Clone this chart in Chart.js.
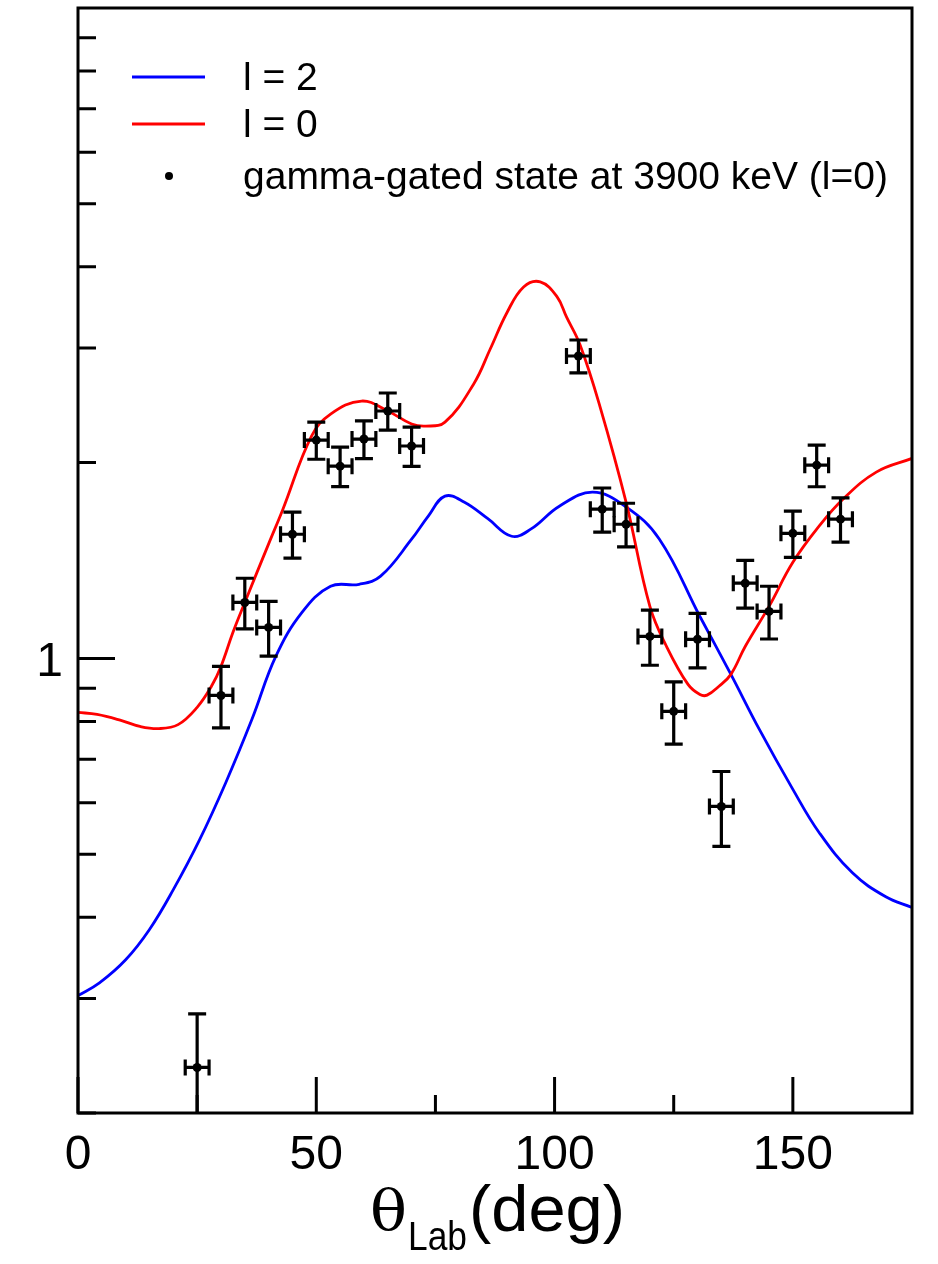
<!DOCTYPE html>
<html>
<head>
<meta charset="utf-8">
<title>Angular distribution</title>
<script src="https://cdn.jsdelivr.net/npm/chart.js@4.4.0/dist/chart.umd.min.js"></script>
<style>
  html, body { margin: 0; padding: 0; background: #fff; }
  #wrap { width: 938px; height: 1264px; }
</style>
</head>
<body>
<div id="wrap"><canvas id="myChart" width="938" height="1264"></canvas></div>
<script>
// l = 2 calculation (blue)
let l2_deg = [0, 4.5, 10, 15, 20, 25.5, 31, 36.5, 41.5, 47, 53, 59, 63.5, 70, 73.5, 77, 81, 86, 91, 95, 101, 108, 115, 122, 130.5, 137, 143, 150, 155.5, 162.5, 169.5, 175];
let l2_val = [0.303, 0.317, 0.344, 0.383, 0.441, 0.526, 0.644, 0.806, 1.007, 1.177, 1.291, 1.300, 1.338, 1.525, 1.655, 1.776, 1.74, 1.64, 1.541, 1.58, 1.714, 1.801, 1.71, 1.525, 1.16, 0.945, 0.777, 0.629, 0.540, 0.468, 0.430, 0.414];

// l = 0 calculation (red)
let l0_deg = [0, 4, 9, 13, 17, 21, 25, 28, 30, 32.5, 35, 40, 43, 49, 53, 59.5, 65, 70, 73, 77, 83, 86.5, 90, 93.5, 97, 100.5, 102.5, 105.3, 109.5, 115, 120, 123.5, 128, 130.5, 132, 134.5, 137, 140, 145, 150, 155.5, 160.5, 167.5, 175];
let l0_val = [0.826, 0.820, 0.803, 0.786, 0.780, 0.791, 0.841, 0.906, 0.972, 1.096, 1.219, 1.50, 1.696, 2.197, 2.375, 2.487, 2.401, 2.293, 2.276, 2.308, 2.64, 2.99, 3.40, 3.725, 3.793, 3.60, 3.35, 3.04, 2.443, 1.739, 1.202, 1.043, 0.912, 0.880, 0.878, 0.906, 0.945, 1.043, 1.202, 1.405, 1.597, 1.757, 1.934, 2.03];

// gamma-gated state at 3900 keV
let data_deg = [25, 30, 35, 40, 45, 50, 55, 60, 65, 70, 105, 110, 115, 120, 125, 130, 135, 140, 145, 150, 155, 160];
let data_val = [0.235, 0.877, 1.219, 1.116, 1.552, 2.166, 1.975, 2.174, 2.401, 2.121, 2.917, 1.696, 1.608, 1.081, 0.829, 1.070, 0.592, 1.305, 1.181, 1.557, 1.982, 1.637];
let data_yerr = [0.049, 0.095, 0.109, 0.108, 0.126, 0.142, 0.138, 0.145, 0.158, 0.147, 0.17, 0.132, 0.124, 0.105, 0.091, 0.103, 0.078, 0.11, 0.11, 0.127, 0.146, 0.128];
let data_xerr = 2.5;

let x_major = [0, 50, 100, 150];
let x_minor = [25, 75, 125];
let y_major = [1];
let y_minor = [0.2, 0.3, 0.4, 0.5, 0.6, 0.7, 0.8, 0.9, 2, 3, 4, 5, 6, 7, 8, 9];

const SANS = '"Liberation Sans", Arial, Helvetica, sans-serif';

function toPoints(xs, ys) {
    let pts = [];
    for (let i = 0; i < xs.length; i++) {
        pts.push({x: xs[i], y: ys[i]});
    }
    return pts;
}

// draw text squeezed/stretched to a given width
function fitText(ctx, text, x, y, width) {
    let w = ctx.measureText(text).width;
    ctx.save();
    ctx.translate(x, y);
    ctx.scale(width / w, 1);
    ctx.fillText(text, 0, 0);
    ctx.restore();
}

const errorBars = {
    id: 'errorBars',
    afterDatasetsDraw(chart) {
        const ctx = chart.ctx;
        const xs = chart.scales.x;
        const ys = chart.scales.y;
        const area = chart.chartArea;
        ctx.save();
        ctx.beginPath();
        ctx.rect(area.left, area.top, area.right - area.left, area.bottom - area.top);
        ctx.clip();
        ctx.strokeStyle = '#000';
        ctx.lineWidth = 3.2;
        for (let i = 0; i < data_deg.length; i++) {
            let px = xs.getPixelForValue(data_deg[i]);
            let py = ys.getPixelForValue(data_val[i]);
            let lo = data_val[i] - data_yerr[i];
            let yTop = ys.getPixelForValue(data_val[i] + data_yerr[i]);
            let yBot = lo > 0 ? ys.getPixelForValue(lo) : area.bottom + 10;
            let xL = xs.getPixelForValue(data_deg[i] - data_xerr);
            let xR = xs.getPixelForValue(data_deg[i] + data_xerr);
            ctx.beginPath();
            ctx.moveTo(px, yTop); ctx.lineTo(px, yBot);
            ctx.moveTo(px - 9, yTop); ctx.lineTo(px + 9, yTop);
            ctx.moveTo(px - 9, yBot); ctx.lineTo(px + 9, yBot);
            ctx.moveTo(xL, py); ctx.lineTo(xR, py);
            ctx.moveTo(xL, py - 8); ctx.lineTo(xL, py + 8);
            ctx.moveTo(xR, py - 8); ctx.lineTo(xR, py + 8);
            ctx.stroke();
        }
        ctx.restore();
    }
};

const frame = {
    id: 'frame',
    afterDraw(chart) {
        const ctx = chart.ctx;
        const xs = chart.scales.x;
        const ys = chart.scales.y;
        const a = chart.chartArea;
        ctx.save();
        ctx.strokeStyle = '#000';
        ctx.lineWidth = 3;
        ctx.strokeRect(a.left, a.top, a.right - a.left, a.bottom - a.top);

        // ticks pointing inward
        ctx.beginPath();
        x_major.forEach(v => { let p = xs.getPixelForValue(v); ctx.moveTo(p, a.bottom); ctx.lineTo(p, a.bottom - 36); });
        x_minor.forEach(v => { let p = xs.getPixelForValue(v); ctx.moveTo(p, a.bottom); ctx.lineTo(p, a.bottom - 18); });
        y_major.forEach(v => { let p = ys.getPixelForValue(v); ctx.moveTo(a.left, p); ctx.lineTo(a.left + 37, p); });
        y_minor.forEach(v => { let p = ys.getPixelForValue(v); ctx.moveTo(a.left, p); ctx.lineTo(a.left + 18, p); });
        ctx.stroke();

        // tick labels
        ctx.fillStyle = '#000';
        ctx.font = '48px ' + SANS;
        ctx.textAlign = 'center';
        ctx.textBaseline = 'alphabetic';
        x_major.forEach(v => ctx.fillText(String(v), xs.getPixelForValue(v), a.bottom + 56));
        ctx.textAlign = 'right';
        y_major.forEach(v => ctx.fillText(String(v), a.left - 15, ys.getPixelForValue(v) + 18));

        // axis title with subscript
        ctx.textAlign = 'left';
        ctx.font = '56px "DejaVu Serif", "Liberation Serif", serif';
        fitText(ctx, 'θ', 370, 1230, 37);
        ctx.font = '41px ' + SANS;
        fitText(ctx, 'Lab', 408, 1250, 59);
        ctx.font = '64px ' + SANS;
        fitText(ctx, '(deg)', 469, 1231, 156);

        // legend
        const ds = chart.data.datasets;
        const rows = [
            {d: ds[1], y: 77},
            {d: ds[2], y: 124},
            {d: ds[0], y: 176}
        ];
        ctx.font = '39px ' + SANS;
        rows.forEach(r => {
            if (r.d.showLine) {
                ctx.strokeStyle = r.d.borderColor;
                ctx.lineWidth = 3;
                ctx.beginPath();
                ctx.moveTo(132, r.y); ctx.lineTo(205, r.y);
                ctx.stroke();
            } else {
                ctx.fillStyle = '#000';
                ctx.beginPath();
                ctx.arc(169, r.y, 4, 0, Math.PI * 2);
                ctx.fill();
            }
            ctx.fillStyle = '#000';
            ctx.textBaseline = 'middle';
            ctx.fillText(r.d.label, 243, r.y + 2);
        });
        ctx.restore();
    }
};

const myChart = document.getElementById('myChart');
new Chart(myChart, {
    type: 'scatter',
    data: {
        datasets: [
            {
                label: 'gamma-gated state at 3900 keV (l=0)',
                data: toPoints(data_deg, data_val),
                pointRadius: 4.5,
                pointBackgroundColor: '#000',
                pointBorderWidth: 0,
                showLine: false,
                order: 0
            },
            {
                label: 'l = 2',
                data: toPoints(l2_deg, l2_val),
                showLine: true,
                borderColor: '#0000ff',
                borderWidth: 2.8,
                pointRadius: 0,
                tension: 0.4,
                order: 2
            },
            {
                label: 'l = 0',
                data: toPoints(l0_deg, l0_val),
                showLine: true,
                borderColor: '#ff0000',
                borderWidth: 2.8,
                pointRadius: 0,
                tension: 0.4,
                order: 1
            }
        ]
    },
    options: {
        responsive: false,
        devicePixelRatio: 1,
        animation: false,
        layout: {
            autoPadding: false,
            padding: {left: 78, top: 8, right: 26, bottom: 151}
        },
        scales: {
            x: {type: 'linear', min: 0, max: 175, display: false},
            y: {type: 'logarithmic', min: 0.2, max: 10, display: false}
        },
        plugins: {
            legend: {display: false},
            tooltip: {enabled: false}
        }
    },
    plugins: [errorBars, frame]
});
</script>
</body>
</html>
